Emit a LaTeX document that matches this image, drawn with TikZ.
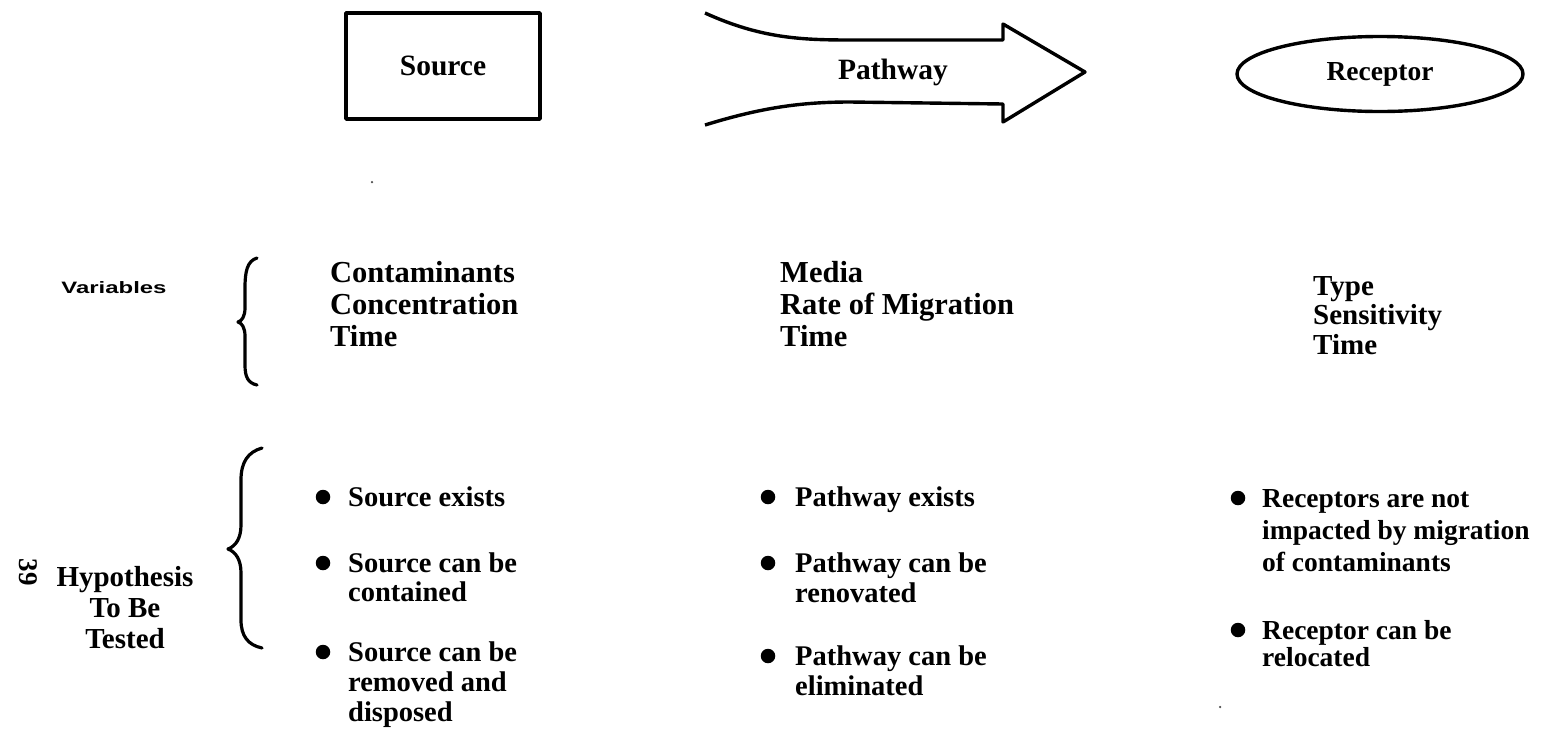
\documentclass[tikz,border=0pt]{standalone}
\usepackage{fontspec}
\setmainfont{Liberation Serif}
\setsansfont{Liberation Sans}
\usetikzlibrary{shapes.geometric}
\begin{document}
\begin{tikzpicture}[x=1pt,y=-1pt,
  lbl/.style={font=\fontsize{29.5}{32}\selectfont\bfseries, inner sep=0pt},
  vtxt/.style={font=\fontsize{30.5}{32}\selectfont\bfseries, align=left, inner sep=0pt, anchor=north west},
  txt/.style={font=\fontsize{28.5}{30}\selectfont\bfseries, align=left, inner sep=0pt, anchor=north west},
  bul/.style={circle, fill=black, inner sep=0pt, minimum size=14.5pt},
  outline/.style={line width=3.4pt, line join=round},
  brace/.style={line width=3.2pt, line cap=round, line join=round},
  speck/.style={circle, fill=black!70, inner sep=0pt, minimum size=2.5pt}
]
\useasboundingbox (0,0) rectangle (1547,745);

% --- header: source, pathway, receptor ---
\node[draw, outline, lbl, minimum width=194pt, minimum height=106pt] (source) at (443,66) {Source};

\draw[outline] (705,13) .. controls (760,38) and (800,40) .. (850,40) -- (1003,40) -- (1003,24)
  -- (1085,72) -- (1003,122) -- (1003,104) -- (850,102) .. controls (800,102) and (760,108) .. (705,125);
\node[lbl] (pathway) at (893,72) {Pathway};

\node[draw, outline, ellipse, inner sep=0pt, font=\fontsize{27.5}{30}\selectfont\bfseries, minimum width=286pt, minimum height=75pt] (receptor) at (1380,74) {Receptor};

% --- variables row ---
\node[inner sep=0pt, font=\fontsize{16.5}{16}\selectfont\sffamily\bfseries] (vars) at (114,288) {\scalebox{1.45}[1]{Variables}};
\draw[brace] (257,258) .. controls (247,261) and (245,272) .. (245,288) -- (245,308)
  .. controls (245,316) and (242,321) .. (238,322) .. controls (242,323) and (245,328) .. (245,336)
  -- (245,365) .. controls (245,377) and (248,383) .. (257,385);

\node[vtxt] (vsrc) at (330,261) {Contaminants\\Concentration\\Time};
\node[vtxt] (vpath) at (780,261) {Media\\Rate of Migration\\Time};
\node[vtxt, font=\fontsize{29}{29.5}\selectfont\bfseries] (vrec) at (1313,276) {Type\\Sensitivity\\Time};

% --- hypotheses row ---
\node[inner sep=0pt, font=\fontsize{27}{31}\selectfont\bfseries, rotate=-90] (page) at (28,572) {39};
\node[inner sep=0pt, anchor=north, align=center, font=\fontsize{29}{31}\selectfont\bfseries] (hyp) at (125,566) {Hypothesis\\To Be\\Tested};
\draw[brace] (262,448) .. controls (248,452) and (241,462) .. (241,480) -- (241,525)
  .. controls (241,538) and (236,546) .. (228,549) .. controls (236,552) and (241,560) .. (241,573)
  -- (241,620) .. controls (241,636) and (248,645) .. (262,648);

% source column
\node[bul] (bs1) at (323,497) {};
\node[txt] (s1) at (348,487) {Source exists};
\node[bul] (bs2) at (323,563) {};
\node[txt, font=\fontsize{28.5}{29}\selectfont\bfseries] (s2) at (348,553) {Source can be\\contained};
\node[bul] (bs3) at (323,652) {};
\node[txt] (s3) at (348,642) {Source can be\\removed and\\disposed};

% pathway column
\node[bul] (bp1) at (768,497) {};
\node[txt] (p1) at (795,487) {Pathway exists};
\node[bul] (bp2) at (768,563) {};
\node[txt] (p2) at (795,553) {Pathway can be\\renovated};
\node[bul] (bp3) at (768,656) {};
\node[txt] (p3) at (795,646) {Pathway can be\\eliminated};

% receptor column
\node[bul] (br1) at (1238,498) {};
\node[txt, font=\fontsize{27.5}{32}\selectfont\bfseries] (r1) at (1262,489) {Receptors are not\\impacted by migration\\of contaminants};
\node[bul] (br2) at (1238,630) {};
\node[txt, font=\fontsize{27.5}{27}\selectfont\bfseries] (r2) at (1262,620) {Receptor can be\\relocated};

% stray marks
\node[speck] (m1) at (372,182) {};
\node[speck] (m2) at (1220,707) {};
\end{tikzpicture}
\end{document}
